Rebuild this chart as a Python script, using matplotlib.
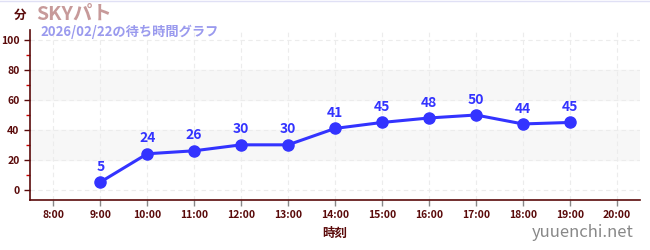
import matplotlib.pyplot as plt
import numpy as np

plt.rcParams['font.family'] = ['Noto Sans CJK JP', 'DejaVu Sans']

hours = [9, 10, 11, 12, 13, 14, 15, 16, 17, 18, 19]
waits = [5, 24, 26, 30, 30, 41, 45, 48, 50, 44, 45]
tick_hours = list(range(8, 21))
tick_labels = ['%d:00' % h for h in tick_hours]

axis_col = '#5a0a0a'
line_col = '#3333ff'

fig = plt.figure(figsize=(6.5, 2.5), dpi=100)
ax = fig.add_axes([0.046, 0.2, 0.939, 0.68])

ax.set_xlim(7.5, 20.5)
ax.set_ylim(-7, 107)

for lo, hi in [(20, 40), (60, 80)]:
    ax.axhspan(lo, hi, color='#f7f7f7', zorder=0)
ax.grid(True, color='#ececec', linestyle=(0, (4, 3)), linewidth=0.8, zorder=1)

ax.plot(hours, waits, color=line_col, linewidth=2.2, marker='o', markersize=8, zorder=3)
for h, w in zip(hours, waits):
    ax.annotate(str(w), (h, w), xytext=(0, 6), textcoords='offset points',
                ha='center', va='bottom', color=line_col, fontsize=10, fontweight='bold')

ax.set_xticks(tick_hours)
ax.set_xticklabels(tick_labels)
ax.set_yticks(range(0, 101, 20))
ax.set_yticks(range(10, 100, 20), minor=True)

for s in ['top', 'right']:
    ax.spines[s].set_visible(False)
for s in ['left', 'bottom']:
    ax.spines[s].set_color(axis_col)
    ax.spines[s].set_linewidth(1.2)

ax.tick_params(axis='both', which='major', colors=axis_col, labelsize=7.5, length=4, width=1)
ax.tick_params(axis='x', which='major', colors='#888888', labelcolor=axis_col)
ax.tick_params(axis='y', which='minor', color='#cc0000', length=3, width=1)
for lbl in ax.get_xticklabels() + ax.get_yticklabels():
    lbl.set_fontweight('bold')

ax.set_xlabel('時刻', color=axis_col, fontsize=9, fontweight='bold', labelpad=5)

fig.text(0.031, 0.94, '分', color=axis_col, fontsize=9, fontweight='bold', ha='center', va='center')
fig.text(0.055, 0.945, 'SKYパト', color='#c79a9a', fontsize=14, fontweight='bold', va='center')
fig.text(0.062, 0.872, '2026/02/22の待ち時間グラフ', color='#9a9aee', fontsize=9.5,
         fontweight='bold', va='center')
fig.text(0.975, 0.07, 'yuuenchi.net', color='#888888', fontsize=12, ha='right', va='center')

fig.add_artist(plt.Line2D([0, 1], [0.998, 0.998], color='#e0e0f5', linewidth=1))

fig.savefig('out.png', dpi=100)
